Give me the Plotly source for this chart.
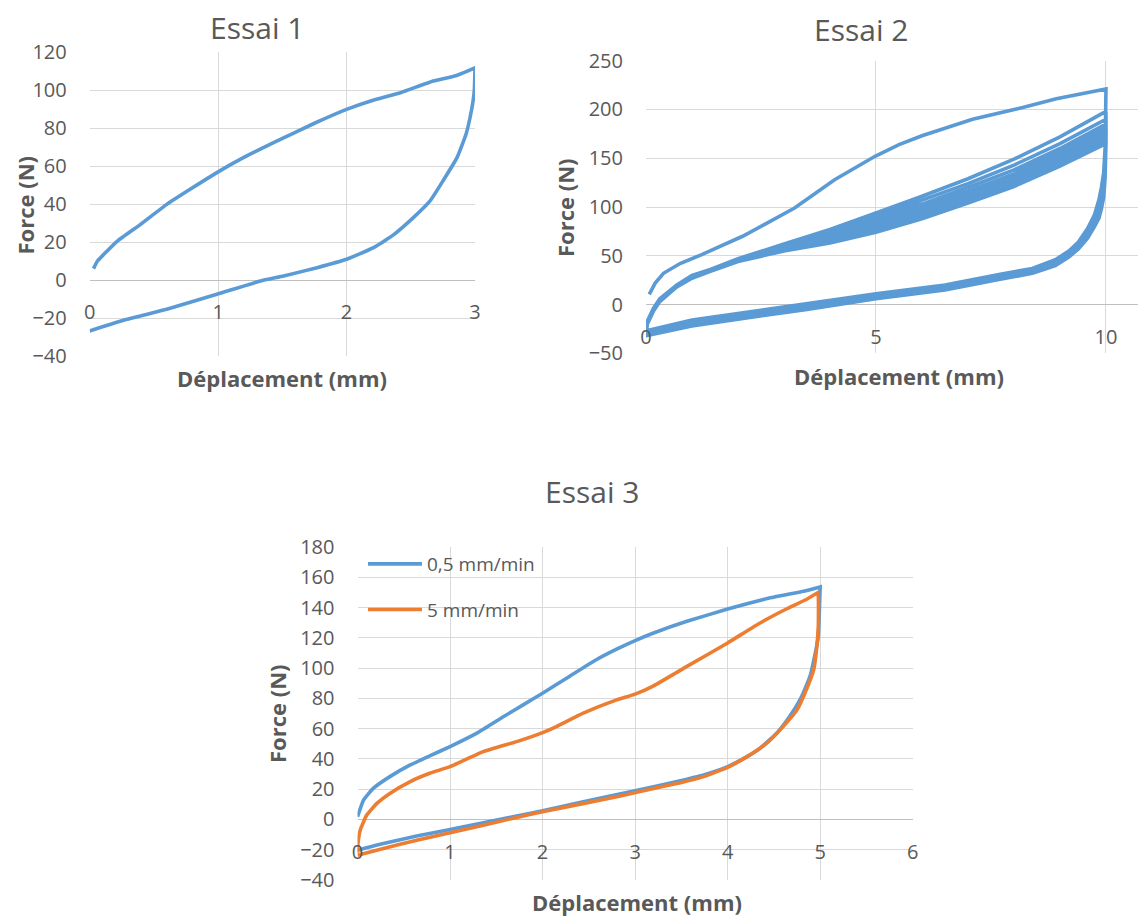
import plotly.graph_objects as go

# ---------------- Essai 1 ----------------
e1_load_x = [0.03, 0.06, 0.11, 0.215, 0.396, 0.60, 0.80, 0.99, 1.2, 1.46, 1.75, 2.0, 2.2, 2.42, 2.675, 2.85, 2.985, 3.0]
e1_load_y = [6, 10, 13.5, 20.5, 29.3, 39.8, 48.5, 56.5, 64.5, 73.2, 82.5, 89.8, 94.5, 98.6, 104.7, 107.5, 111.2, 111.7]
e1_unload_x = [3.0, 2.995, 2.985, 2.96, 2.93, 2.86, 2.75, 2.65, 2.52, 2.37, 2.21, 2.0, 1.77, 1.51, 1.33, 0.99, 0.60, 0.29, 0.0]
e1_unload_y = [111.7, 100, 94.2, 85, 76.7, 64.4, 52.1, 41.6, 32.8, 24, 17, 10.9, 6.5, 2.1, -0.5, -7.5, -15.4, -20.7, -26.8]

# ---------------- Essai 2 ----------------
e2_first_load_x = [0.07, 0.2, 0.38, 0.74, 1.2, 1.62, 2.1, 2.57, 3.23, 4.1, 4.98, 5.5, 6.0, 7.1, 8.19, 8.92, 10]
e2_first_load_y = [10.5, 22, 32, 42, 51, 60, 70, 82, 99, 128, 152, 164, 173, 190, 202, 211, 221]
e2_load_x = [0, 0.03, 0.16, 0.3, 0.67, 1.0, 1.4, 2.0, 3, 4, 5, 6, 7, 8, 9, 10]
e2_unload_x = [10, 9.98, 9.95, 9.9, 9.85, 9.75, 9.6, 9.4, 9.2, 8.9, 8.4, 7.7, 6.5, 5, 3.5, 2, 1, 0]
e2_loads_y = [
    [-27, -17, -4, 6, 20, 30, 36, 47, 62, 77, 94, 111, 129, 149, 172, 198],
    [-28, -18, -5, 5, 20, 29, 36, 46, 61, 75, 91, 107, 124, 143, 165, 190],
    [-29, -18, -5, 5, 19, 29, 35, 46, 60, 73, 88, 103, 120, 138, 160, 185],
    [-29, -19, -6, 4, 19, 29, 35, 46, 59, 71, 85, 100, 116, 134, 156, 181],
    [-30, -19, -6, 4, 19, 28, 35, 45, 58, 69, 82, 97, 113, 131, 153, 178],
    [-30, -19, -6, 4, 19, 28, 35, 45, 57, 67, 80, 94, 110, 128, 150, 175],
    [-31, -20, -7, 3, 18, 28, 34, 45, 57, 66, 78, 92, 108, 126, 147, 172],
    [-31, -20, -7, 3, 18, 28, 34, 44, 56, 64, 76, 90, 106, 123, 144, 169],
    [-32, -20, -7, 3, 18, 27, 34, 44, 55, 63, 74, 88, 104, 121, 142, 165],
]
e2_unloads_y = [
    [221, 160, 135, 120, 108, 92, 78, 64, 55, 46, 37, 31, 20, 11, 1, -9, -16, -27],
    [198, 155, 130, 117, 106, 90, 76, 63, 54, 45, 36, 30, 19, 10, 0, -10, -17, -28],
    [190, 150, 127, 114, 104, 89, 75, 62, 53, 44, 36, 29, 19, 9, -1, -11, -18, -29],
    [185, 147, 124, 111, 101, 87, 74, 61, 52, 43, 35, 29, 18, 9, -2, -12, -19, -29],
    [181, 144, 121, 108, 99, 86, 73, 60, 52, 43, 35, 28, 18, 8, -3, -12, -20, -30],
    [178, 141, 118, 106, 97, 85, 72, 60, 51, 42, 34, 28, 17, 8, -3, -13, -20, -30],
    [175, 138, 116, 104, 95, 84, 71, 59, 51, 42, 34, 27, 17, 7, -4, -14, -21, -31],
    [172, 135, 114, 102, 93, 83, 70, 58, 50, 41, 33, 27, 16, 7, -4, -14, -21, -31],
    [169, 132, 112, 100, 91, 82, 69, 58, 49, 41, 33, 26, 16, 6, -5, -15, -22, -32],
    [165, 129, 110, 98, 89, 80, 68, 57, 49, 40, 32, 26, 15, 6, -5, -15, -22, -32],
]

# ---------------- Essai 3 ----------------
e3_slow_load_x = [0, 0.065, 0.17, 0.35, 0.57, 0.78, 1.0, 1.29, 1.58, 1.79, 2.0, 2.29, 2.58, 2.8, 3.0, 3.2, 3.56, 4.0, 4.46, 4.82, 5.0]
e3_slow_load_y = [1.8, 12.8, 20.5, 28.3, 36, 42, 48.1, 57, 68, 75.7, 83.4, 94.5, 105.5, 112.5, 118.2, 123.2, 130.9, 139, 146.4, 150.8, 153.6]
e3_slow_unload_x = [5.0, 4.99, 4.98, 4.94, 4.89, 4.8, 4.67, 4.53, 4.35, 4.21, 4.0, 3.74, 3.49, 3.2, 3.0, 2.44, 2.0, 1.72, 1.0, 0.64, 0.28, 0.0]
e3_slow_unload_y = [153.6, 135, 121, 107.7, 94.5, 81.2, 68, 57, 47, 41.5, 34.9, 29.4, 25.6, 21.6, 19, 11.7, 5.7, 2.2, -6.6, -11, -15.9, -20.3]
e3_fast_load_x = [0, 0.005, 0.03, 0.1, 0.21, 0.35, 0.57, 0.78, 1.0, 1.36, 1.72, 2.0, 2.15, 2.44, 2.8, 3.0, 3.2, 3.56, 4.0, 4.35, 4.64, 4.85, 4.94, 4.97]
e3_fast_load_y = [-22, -15.9, -7, 2.9, 10.6, 17.2, 25, 30.5, 34.9, 44.8, 51.4, 57.4, 61.4, 70.2, 79, 82.8, 88.3, 101.1, 116.6, 129.8, 139.2, 145.3, 148.6, 149.7]
e3_fast_unload_x = [4.97, 4.98, 4.98, 4.96, 4.93, 4.85, 4.75, 4.6, 4.42, 4.21, 4.0, 3.74, 3.49, 3.2, 2.84, 2.0, 1.72, 1.0, 0.64, 0.28, 0.0]
e3_fast_unload_y = [149.7, 147.5, 127.6, 112, 98.9, 85.7, 72.4, 61.4, 50.3, 41.5, 34.4, 28.3, 24.3, 20.5, 15.5, 5.1, 1.3, -8.8, -13.7, -19.2, -23.6]

e3_names = ["0,5 mm/min", "5 mm/min"]
titles = ["Essai 1", "Essai 2", "Essai 3"]
x_title = "Déplacement (mm)"
y_title = "Force (N)"

BLUE = "#5B9BD5"
ORANGE = "#ED7D31"
GRID = "#D9D9D9"
ZERO = "#BFBFBF"
TXT = "#595959"
FONT = "Open Sans"

# the page body has an 8px margin: work in screen pixels and convert
OFF = 8
W, H = 1146 - OFF, 916 - OFF
def fx(px):
    return (px - OFF) / W
def fy(py):
    return 1 - (py - OFF) / H

fig = go.Figure()
LW = 3.6

# Essai 1
fig.add_trace(go.Scatter(x=e1_load_x + e1_unload_x, y=e1_load_y + e1_unload_y,
                         mode="lines", line=dict(color=BLUE, width=LW, shape="spline", smoothing=0.4),
                         xaxis="x", yaxis="y", showlegend=False))

# Essai 2 : continuous path of all cycles
e2_x = list(e2_first_load_x) + list(e2_unload_x)
e2_y = list(e2_first_load_y) + list(e2_unloads_y[0])
for ly, uy in zip(e2_loads_y, e2_unloads_y[1:]):
    e2_x += e2_load_x + e2_unload_x
    e2_y += ly + uy
fig.add_trace(go.Scatter(x=e2_x, y=e2_y, mode="lines", line=dict(color=BLUE, width=LW),
                         xaxis="x2", yaxis="y2", showlegend=False))

# Essai 3
fig.add_trace(go.Scatter(x=e3_slow_load_x + e3_slow_unload_x, y=e3_slow_load_y + e3_slow_unload_y,
                         mode="lines", line=dict(color=BLUE, width=LW, shape="spline", smoothing=0.4),
                         name=e3_names[0], xaxis="x3", yaxis="y3", legendgroup="a"))
fig.add_trace(go.Scatter(x=e3_fast_load_x + e3_fast_unload_x, y=e3_fast_load_y + e3_fast_unload_y,
                         mode="lines", line=dict(color=ORANGE, width=LW, shape="spline", smoothing=0.4),
                         name=e3_names[1], xaxis="x3", yaxis="y3", legendgroup="b"))

tickfont = dict(family=FONT, size=20, color=TXT)

def xax(domain, rng, tickvals, pos):
    return dict(domain=domain, range=rng, tickvals=tickvals, anchor="free", position=pos,
                showgrid=True, gridcolor=GRID, gridwidth=1, zeroline=False, showline=False,
                ticks="outside", ticklen=15, tickcolor="rgba(0,0,0,0)", tickfont=tickfont,
                fixedrange=True, automargin=False)

def yax(domain, rng, dtick, anchor):
    return dict(domain=domain, range=rng, dtick=dtick, tick0=0, anchor=anchor,
                showgrid=True, gridcolor=GRID, gridwidth=1, zeroline=True, zerolinecolor=ZERO,
                zerolinewidth=1, showline=False, ticks="outside", ticklen=18,
                tickcolor="rgba(0,0,0,0)", tickfont=tickfont, fixedrange=True, automargin=False)

fig.update_layout(
    template="none",
    width=W, height=H, margin=dict(l=0, r=0, t=0, b=0, pad=0, autoexpand=False),
    paper_bgcolor="white", plot_bgcolor="white",
    font=dict(family=FONT, color=TXT),
    xaxis=xax([fx(89.7), fx(475)], [0, 3], [0, 1, 2, 3], fy(279.3)),
    yaxis=yax([fy(356), fy(52)], [-40, 120], 20, "x"),
    xaxis2=xax([fx(646), 1.0], [0, 10.87], [0, 5, 10], fy(304.3)),
    yaxis2=yax([fy(353.3), fy(60.7)], [-50, 250], 50, "x2"),
    xaxis3=xax([fx(357.5), fx(912.7)], [0, 6], [0, 1, 2, 3, 4, 5, 6], fy(819.3)),
    yaxis3=yax([fy(880), fy(547)], [-40, 180], 20, "x3"),
    legend=dict(x=fx(363), y=fy(545), xanchor="left", yanchor="top",
                bgcolor="rgba(0,0,0,0)", borderwidth=0,
                font=dict(family=FONT, size=19, color=TXT),
                tracegroupgap=18, itemwidth=54),
    showlegend=True,
)

ann = []
title_pos = [(256.5, 28), (861, 30), (592, 491)]
for t, (px, py) in zip(titles, title_pos):
    ann.append(dict(text=t, x=fx(px), y=fy(py), xref="paper", yref="paper",
                    xanchor="center", yanchor="middle", showarrow=False,
                    font=dict(family=FONT, size=30, color=TXT)))
xt_pos = [(282, 378), (899, 376), (637, 902)]
for px, py in xt_pos:
    ann.append(dict(text="<b>" + x_title + "</b>", x=fx(px), y=fy(py), xref="paper", yref="paper",
                    xanchor="center", yanchor="middle", showarrow=False,
                    font=dict(family=FONT, size=22, color=TXT)))
yt_pos = [(24.5, 205), (565, 208), (277, 714)]
for px, py in yt_pos:
    ann.append(dict(text="<b>" + y_title + "</b>", x=fx(px), y=fy(py), xref="paper", yref="paper",
                    xanchor="center", yanchor="middle", showarrow=False, textangle=-90,
                    font=dict(family=FONT, size=22, color=TXT)))
fig.update_layout(annotations=ann)

fig.write_html("out.html")
